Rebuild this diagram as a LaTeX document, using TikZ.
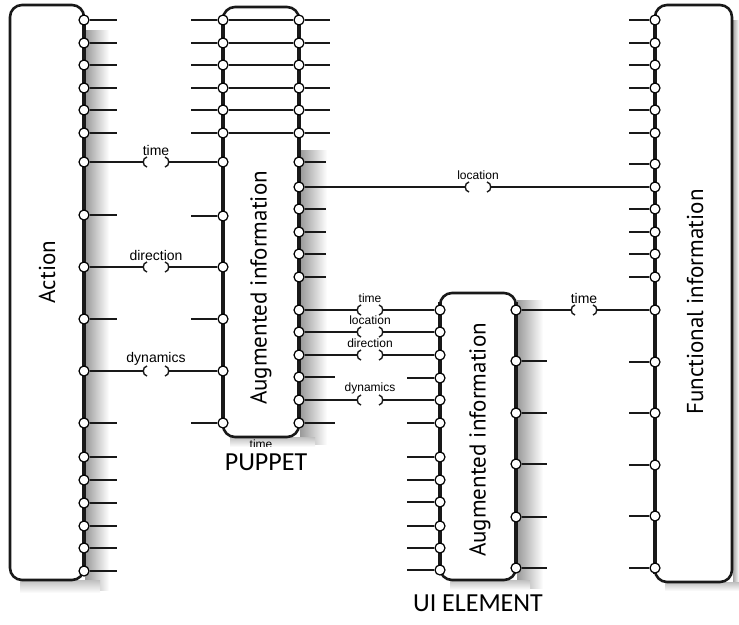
\documentclass[tikz,border=0pt]{standalone}
\usepackage{fontspec}
\setmainfont{Liberation Sans}
\newfontfamily\boxfont{PT Sans}
\newfontfamily\capfont{Carlito}
\usetikzlibrary{calc}
\newcommand\plug[7]{%
  \coordinate (#1L) at (#4-13,#5);
  \coordinate (#1R) at (#4+13,#5);
  \draw[wire] (#2) -- (#1L);
  \draw[wire] (#1R) -- (#3);
  \draw[bracket] (#4-9,#5-5) .. controls (#4-14,#5-4) and (#4-14,#5+4) .. (#4-9,#5+5);
  \draw[bracket] (#4+9,#5-5) .. controls (#4+14,#5-4) and (#4+14,#5+4) .. (#4+9,#5+5);
  \node[lbl,#7] (#1T) at (#4,#5-12) {#6};%
}
\begin{document}
\begin{tikzpicture}[x=1pt,y=-1pt,
  box/.style={draw=black!90,line width=2.6pt,rounded corners=12pt,fill=white,inner sep=0pt},
  portedge/.style={line width=3.2pt,draw=black!90},
  port/.style={circle,draw=black,fill=white,line width=1.2pt,inner sep=0pt,minimum size=10pt},
  wire/.style={line width=2.4pt,draw=black!90},
  bracket/.style={line width=1.4pt,draw=black!90},
  lbl/.style={inner sep=0pt,font=\fontsize{14}{14}\selectfont},
  lblsmall/.style={font=\fontsize{12}{12}\selectfont},
  bigtxt/.style={rotate=90,font=\boxfont\fontsize{23}{23}\selectfont,inner sep=0pt},
  captxt/.style={font=\capfont\fontsize{26}{26}\selectfont,inner sep=0pt}
]
\useasboundingbox (0,0) rectangle (739,624);
% shadows
\shade[left color=black!40,right color=white] (85,30) rectangle (109,590);
\shade[top color=black!25,bottom color=white] (20,580) rectangle (100,593);
\shade[left color=black!40,right color=white] (300,150) rectangle (327,444);
\shade[top color=black!25,bottom color=white] (230,437) rectangle (315,447);
\shade[left color=black!40,right color=white] (517,300) rectangle (543,588);
\shade[top color=black!25,bottom color=white] (450,580) rectangle (530,590);
\shade[left color=black!35,right color=white] (733,20) rectangle (739,590);
\shade[top color=black!25,bottom color=white] (665,582) rectangle (739,591);
% boxes
\node[box,minimum width=74pt,minimum height=575pt] (action) at (47,292.5) {};
\node[box,minimum width=76pt,minimum height=430pt] (puppet) at (261,222) {};
\node[box,minimum width=76pt,minimum height=287pt] (ui) at (478,436.5) {};
\node[box,minimum width=77pt,minimum height=577pt] (func) at (693.5,293.5) {};
% port edges
\draw[portedge] (84,15) -- (84,572);
\draw[portedge] (223,16) -- (223,428);
\draw[portedge] (299,16) -- (299,428);
\draw[portedge] (440,302) -- (440,572);
\draw[portedge] (516,302) -- (516,572);
\draw[portedge] (655,15) -- (655,574);
% ports
\foreach \y [count=\i] in {20,43,65,88,110,133,162,215,267,319,371,423,457,480,503,526,548,571}
  {\node[port] (a\i) at (84,\y) {}; \coordinate (as\i) at (117,\y);}
\foreach \y [count=\i] in {20,43,65,88,110,133,162,216,267,319,371,423}
  {\node[port] (pl\i) at (223,\y) {}; \coordinate (pls\i) at (191,\y);}
\foreach \y [count=\i] in {20,43,65,88,110,133,162,187,209,232,254,277,310,332,355,377,400,423}
  {\node[port] (pr\i) at (299,\y) {}; \coordinate (prs\i) at (326,\y);}
\foreach \y [count=\i] in {310,332,355,378,400,423,457,480,502,526,548,570}
  {\node[port] (ul\i) at (440,\y) {}; \coordinate (uls\i) at (407,\y);}
\foreach \y [count=\i] in {310,361,413,464,517,568}
  {\node[port] (ur\i) at (516,\y) {}; \coordinate (urs\i) at (547,\y);}
\foreach \y [count=\i] in {20,43,65,88,110,133,164,187,209,232,254,277,310,362,413,465,516,568}
  {\node[port] (f\i) at (655,\y) {}; \coordinate (fs\i) at (629,\y);}
\coordinate (prs16) at (335,377);
\coordinate (prs18) at (335,423);
\foreach \i in {1,...,6} \coordinate (prs\i) at (330,0|-pr\i);
% stubs
\foreach \i in {1,2,3,4,5,6,8,10,12,13,14,15,16,17,18} \draw[wire] (a\i) -- (as\i);
\foreach \i in {1,2,3,4,5,6,8,10,12} \draw[wire] (pls\i) -- (pl\i);
\foreach \i in {1,...,6} \draw[wire] (pl\i) -- (pr\i);
\foreach \i in {1,2,3,4,5,6,7,9,10,11,12,16,18} \draw[wire] (pr\i) -- (prs\i);
\foreach \i in {4,6,7,8,9,10,11,12} \draw[wire] (uls\i) -- (ul\i);
\foreach \i in {2,...,6} \draw[wire] (ur\i) -- (urs\i);
\foreach \i in {1,2,3,4,5,6,7,9,10,11,12,14,15,16,17,18} \draw[wire] (fs\i) -- (f\i);
% plugged connectors
\plug{k1}{a7}{pl7}{156}{162}{time}{}
\plug{k2}{a9}{pl9}{156}{267}{direction}{}
\plug{k3}{a11}{pl11}{156}{371}{dynamics}{}
\plug{k4}{pr8}{f8}{478}{187}{location}{lblsmall}
\plug{k5}{pr13}{ul1}{370}{310}{time}{lblsmall}
\plug{k6}{pr14}{ul2}{370}{332}{location}{lblsmall}
\plug{k7}{pr15}{ul3}{370}{355}{direction}{lblsmall}
\plug{k8}{pr17}{ul5}{370}{400}{dynamics}{lblsmall}
\plug{k9}{ur1}{f13}{584}{310}{time}{}
% labels
\node[bigtxt] (tAction) at (47,272) {Action};
\node[bigtxt] (tPuppet) at (261,288) {Augmented information};
\node[bigtxt] (tUI) at (480,440) {Augmented information};
\node[bigtxt] (tFunc) at (695,302) {Functional information};
\begin{scope}
  \clip (230,439) rectangle (300,446.5);
  \node[lbl,lblsmall,anchor=north,text depth=0pt] (tcut) at (261,440) {time};
\end{scope}
\node[captxt] (cPuppet) at (266,462) {PUPPET};
\node[captxt] (cUI) at (478,603) {UI ELEMENT};
\end{tikzpicture}
\end{document}
